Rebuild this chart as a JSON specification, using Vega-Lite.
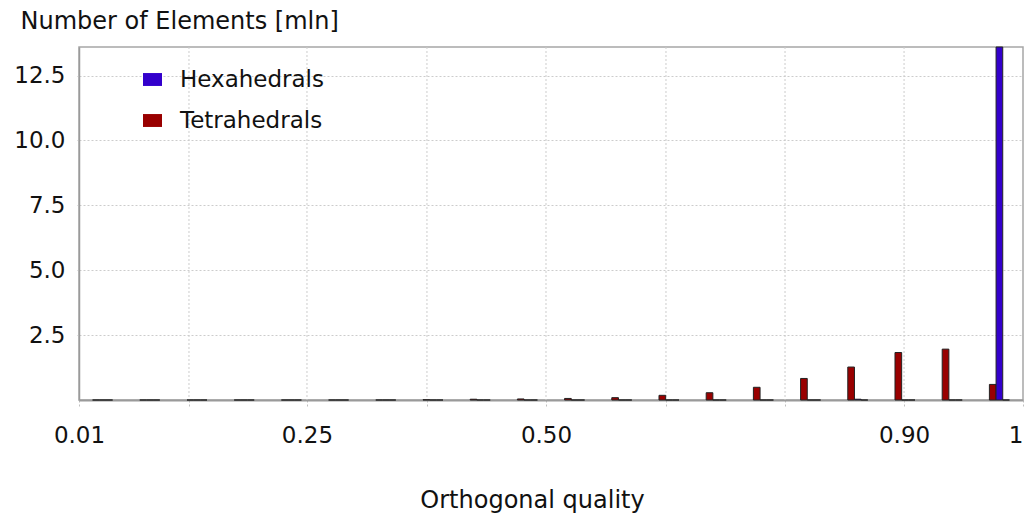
{
  "$schema": "https://vega.github.io/schema/vega-lite/v6.json",
  "width": 944,
  "height": 353,
  "autosize": {"type": "none"},
  "padding": {"left": 79, "top": 47, "right": 4, "bottom": 117},
  "background": "white",
  "config": {
    "font": "DejaVu Sans",
    "view": {"stroke": "#a6a6a6", "strokeWidth": 1.5},
    "axis": {
      "labelFont": "DejaVu Sans",
      "labelFontSize": 23,
      "labelColor": "#111111",
      "titleFont": "DejaVu Sans",
      "titleFontSize": 24,
      "titleFontWeight": "normal",
      "titleColor": "#111111",
      "domainColor": "#9a9a9a",
      "gridColor": "#cccccc",
      "gridDash": [2, 2],
      "tickColor": "#c0c0c0",
      "tickDash": [2, 2]
    }
  },
  "datasets": {
    "gridlines": [
      {"quality": 0.1165},
      {"quality": 0.2415},
      {"quality": 0.3686},
      {"quality": 0.4947},
      {"quality": 0.6218},
      {"quality": 0.7479},
      {"quality": 0.874}
    ],
    "counts": [
      {"from": 0.00, "type": "Tetrahedrals", "count": 0},
      {"from": 0.05, "type": "Tetrahedrals", "count": 0},
      {"from": 0.10, "type": "Tetrahedrals", "count": 0},
      {"from": 0.15, "type": "Tetrahedrals", "count": 0},
      {"from": 0.20, "type": "Tetrahedrals", "count": 0},
      {"from": 0.25, "type": "Tetrahedrals", "count": 0},
      {"from": 0.30, "type": "Tetrahedrals", "count": 0},
      {"from": 0.35, "type": "Tetrahedrals", "count": 0.01},
      {"from": 0.40, "type": "Tetrahedrals", "count": 0.03},
      {"from": 0.45, "type": "Tetrahedrals", "count": 0.04},
      {"from": 0.50, "type": "Tetrahedrals", "count": 0.06},
      {"from": 0.55, "type": "Tetrahedrals", "count": 0.09},
      {"from": 0.60, "type": "Tetrahedrals", "count": 0.18},
      {"from": 0.65, "type": "Tetrahedrals", "count": 0.28},
      {"from": 0.70, "type": "Tetrahedrals", "count": 0.49},
      {"from": 0.75, "type": "Tetrahedrals", "count": 0.83},
      {"from": 0.80, "type": "Tetrahedrals", "count": 1.27},
      {"from": 0.85, "type": "Tetrahedrals", "count": 1.83},
      {"from": 0.90, "type": "Tetrahedrals", "count": 1.96},
      {"from": 0.95, "type": "Tetrahedrals", "count": 0.60},
      {"from": 0.00, "type": "Hexahedrals", "count": 0},
      {"from": 0.05, "type": "Hexahedrals", "count": 0},
      {"from": 0.10, "type": "Hexahedrals", "count": 0},
      {"from": 0.15, "type": "Hexahedrals", "count": 0},
      {"from": 0.20, "type": "Hexahedrals", "count": 0},
      {"from": 0.25, "type": "Hexahedrals", "count": 0},
      {"from": 0.30, "type": "Hexahedrals", "count": 0},
      {"from": 0.35, "type": "Hexahedrals", "count": 0},
      {"from": 0.40, "type": "Hexahedrals", "count": 0},
      {"from": 0.45, "type": "Hexahedrals", "count": 0},
      {"from": 0.50, "type": "Hexahedrals", "count": 0},
      {"from": 0.55, "type": "Hexahedrals", "count": 0},
      {"from": 0.60, "type": "Hexahedrals", "count": 0},
      {"from": 0.65, "type": "Hexahedrals", "count": 0},
      {"from": 0.70, "type": "Hexahedrals", "count": 0},
      {"from": 0.75, "type": "Hexahedrals", "count": 0},
      {"from": 0.80, "type": "Hexahedrals", "count": 0.03},
      {"from": 0.85, "type": "Hexahedrals", "count": 0},
      {"from": 0.90, "type": "Hexahedrals", "count": 0},
      {"from": 0.95, "type": "Hexahedrals", "count": 13.6},
      {"from": 0.00, "type": "Other", "count": 0},
      {"from": 0.05, "type": "Other", "count": 0},
      {"from": 0.10, "type": "Other", "count": 0},
      {"from": 0.15, "type": "Other", "count": 0},
      {"from": 0.20, "type": "Other", "count": 0},
      {"from": 0.25, "type": "Other", "count": 0},
      {"from": 0.30, "type": "Other", "count": 0},
      {"from": 0.35, "type": "Other", "count": 0},
      {"from": 0.40, "type": "Other", "count": 0},
      {"from": 0.45, "type": "Other", "count": 0},
      {"from": 0.50, "type": "Other", "count": 0},
      {"from": 0.55, "type": "Other", "count": 0},
      {"from": 0.60, "type": "Other", "count": 0},
      {"from": 0.65, "type": "Other", "count": 0},
      {"from": 0.70, "type": "Other", "count": 0},
      {"from": 0.75, "type": "Other", "count": 0},
      {"from": 0.80, "type": "Other", "count": 0},
      {"from": 0.85, "type": "Other", "count": 0},
      {"from": 0.90, "type": "Other", "count": 0},
      {"from": 0.95, "type": "Other", "count": 0}
    ]
  },
  "layer": [
    {
      "data": {"name": "gridlines"},
      "mark": {"type": "rule", "color": "#cccccc", "strokeDash": [2, 2], "strokeWidth": 1},
      "encoding": {
        "x": {
          "field": "quality",
          "type": "quantitative",
          "scale": {"domain": [0, 1], "nice": false, "zero": false},
          "axis": {
            "values": [0, 0.1165, 0.2415, 0.3686, 0.4947, 0.6218, 0.7479, 0.874, 1],
            "labelExpr": "datum.value == 0 ? '0.01' : datum.value == 0.2415 ? '0.25' : datum.value == 0.4947 ? '0.50' : datum.value == 0.874 ? '0.90' : datum.value == 1 ? '1' : ''",
            "labelAlign": {"condition": {"test": "datum.value == 1", "value": "right"}, "value": "center"},
            "grid": false,
            "domainWidth": 2,
            "tickSize": 6,
            "labelPadding": 18,
            "labelFlush": false,
            "labelOverlap": false,
            "title": "Orthogonal quality",
            "titleX": 453,
            "titleY": 107,
            "titleAlign": "center",
            "titleBaseline": "alphabetic"
          }
        }
      }
    },
    {
      "data": {"name": "counts"},
      "mark": {"type": "bar", "stroke": "#222222", "strokeWidth": 1},
      "encoding": {
        "x": {
          "field": "from",
          "type": "ordinal",
          "scale": {"paddingInner": 0.576, "paddingOuter": 0.288},
          "axis": null
        },
        "xOffset": {
          "field": "type",
          "type": "nominal",
          "scale": {"domain": ["Tetrahedrals", "Hexahedrals", "Other"], "paddingInner": 0, "paddingOuter": 0}
        },
        "y": {
          "field": "count",
          "type": "quantitative",
          "scale": {"domain": [0, 13.6], "nice": false},
          "axis": {
            "values": [2.5, 5, 7.5, 10, 12.5],
            "format": ".1f",
            "grid": true,
            "tickSize": 3,
            "labelPadding": 11,
            "domainWidth": 1.5,
            "title": "Number of Elements [mln]",
            "titleAngle": 0,
            "titleAlign": "left",
            "titleBaseline": "alphabetic",
            "titleX": -59,
            "titleY": -19
          }
        },
        "color": {
          "field": "type",
          "type": "nominal",
          "scale": {"domain": ["Hexahedrals", "Tetrahedrals", "Other"], "range": ["#3300cc", "#990000", "#333333"]},
          "legend": {
            "values": ["Hexahedrals", "Tetrahedrals"],
            "title": null,
            "orient": "none",
            "legendX": 62,
            "legendY": 21,
            "padding": 0,
            "symbolType": "M-1,-0.68H1V0.68H-1Z",
            "symbolSize": 361,
            "symbolStrokeWidth": 0,
            "symbolOpacity": 1,
            "labelFont": "DejaVu Sans",
            "labelFontSize": 23,
            "labelColor": "#111111",
            "labelOffset": 16,
            "rowPadding": 17
          }
        }
      }
    }
  ],
  "resolve": {"scale": {"x": "independent"}}
}
